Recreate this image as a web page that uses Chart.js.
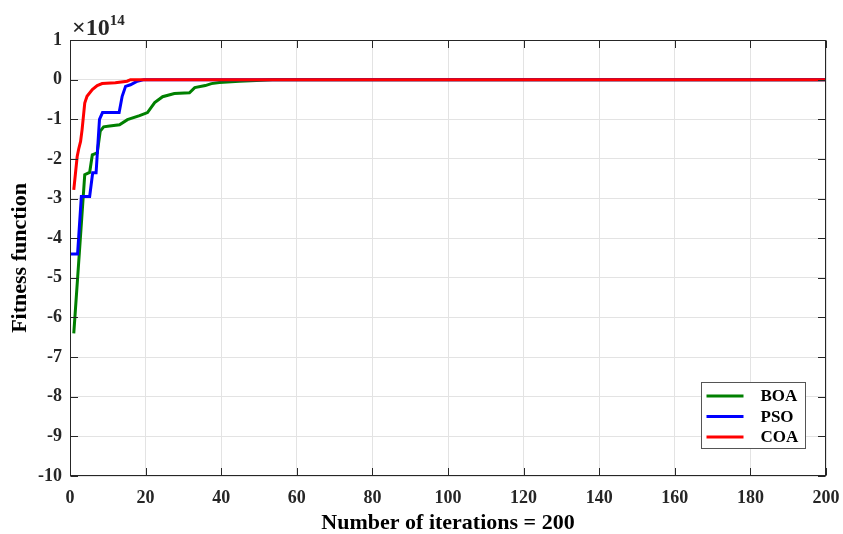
<!DOCTYPE html>
<html><head><meta charset="utf-8">
<script src="https://cdn.jsdelivr.net/npm/chart.js@4.4.1/dist/chart.umd.min.js"></script>
<style>html,body{margin:0;padding:0;background:#fff;}#wrap{width:843px;height:534px;}</style>
</head><body><div id="wrap"><canvas id="c" width="843" height="534"></canvas></div>
<script>
// ---- data (y values in units of 10^14) ----
const xTickValues = [0,20,40,60,80,100,120,140,160,180,200];
const yTickValues = [1,0,-1,-2,-3,-4,-5,-6,-7,-8,-9,-10];
const yExponent = 14;
const seriesNames = ['BOA','PSO','COA'];
const seriesColors = ['#008000','#0000ff','#ff0000'];
const xTitle = 'Number of iterations = 200';
const yTitle = 'Fitness function';

const boaX = [1, 3.9, 5.2, 5.9, 7.2, 8.0, 8.9, 10.5, 13.1, 15.2, 18.4, 20.5, 22.4, 24.5, 27.6, 31.6, 33.0, 35.8, 37.4, 39.5, 44.8, 49.3, 53.6, 200];
const boaY = [-6.4, -2.4, -2.34, -1.9, -1.85, -1.3, -1.19, -1.17, -1.14, -1.01, -0.91, -0.83, -0.58, -0.43, -0.35, -0.33, -0.2, -0.15, -0.1, -0.07, -0.04, -0.02, 0, 0];

const psoX = [0.2, 2.0, 3.0, 5.2, 6.0, 6.9, 7.8, 8.6, 13.0, 13.8, 14.7, 16.0, 17.8, 19.6, 200];
const psoY = [-4.4, -4.4, -2.95, -2.95, -2.35, -2.35, -1.0, -0.83, -0.83, -0.42, -0.17, -0.13, -0.04, 0, 0];

const coaX = [1, 1.9, 2.3, 2.8, 3.2, 3.9, 4.5, 5.9, 7.2, 8.5, 12.0, 15.1, 16.0, 200];
const coaY = [-2.78, -1.94, -1.75, -1.56, -1.26, -0.59, -0.42, -0.25, -0.15, -0.1, -0.08, -0.04, 0, 0];

const seriesX = [boaX, psoX, coaX];
const seriesY = [boaY, psoY, coaY];

const AXIS = '#262626';
const serif = '"Liberation Serif", "Times New Roman", serif';

const framePlugin = {
  id: 'frame',
  afterDatasetsDraw(chart) {
    const ctx = chart.ctx, a = chart.chartArea;
    const xs = chart.scales.x, ys = chart.scales.y;
    ctx.save();
    ctx.strokeStyle = AXIS; ctx.lineWidth = 1;
    const L = Math.round(a.left)+0.5, R = Math.round(a.right)-0.5, T = Math.round(a.top)+0.5, B = Math.round(a.bottom)-0.5;
    ctx.strokeRect(L, T, R-L, B-T);
    const tl = 7.5;
    ctx.beginPath();
    xTickValues.forEach(v => {
      const px = Math.round(xs.getPixelForValue(v))+0.5;
      ctx.moveTo(px, B); ctx.lineTo(px, B-tl);
      ctx.moveTo(px, T); ctx.lineTo(px, T+tl);
    });
    yTickValues.forEach(v => {
      const py = Math.round(ys.getPixelForValue(v))+0.5;
      ctx.moveTo(L, py); ctx.lineTo(L+tl, py);
      ctx.moveTo(R, py); ctx.lineTo(R-tl, py);
    });
    ctx.stroke();
    // exponent label
    ctx.fillStyle = AXIS;
    ctx.textBaseline = 'alphabetic';
    ctx.textAlign = 'left';
    ctx.font = 'bold 24px ' + serif;
    const base = '\u00d710';
    ctx.fillText(base, a.left + 2, a.top - 5);
    const w = ctx.measureText(base).width;
    ctx.font = 'bold 15px ' + serif;
    ctx.fillText(String(yExponent), a.left + 2 + w, a.top - 15);
    // legend
    const bw = 104, bh = 66;
    const bx = Math.round(a.right) - 21 - bw + 0.5, by = Math.round(a.bottom) - 28 - bh + 0.5;
    ctx.fillStyle = '#fff';
    ctx.fillRect(bx, by, bw, bh);
    ctx.strokeStyle = '#555'; ctx.lineWidth = 1;
    ctx.strokeRect(bx, by, bw, bh);
    ctx.font = 'bold 17px ' + serif;
    ctx.textBaseline = 'middle';
    chart.data.datasets.forEach((ds, i) => {
      const yy = by + 13.5 + i * 20.5;
      ctx.strokeStyle = ds.borderColor; ctx.lineWidth = 3;
      ctx.beginPath(); ctx.moveTo(bx + 5, yy); ctx.lineTo(bx + 42, yy); ctx.stroke();
      ctx.fillStyle = '#000';
      ctx.fillText(ds.label, bx + 59, yy + 1);
    });
    ctx.restore();
  }
};

const datasets = seriesNames.map((name, i) => ({
  label: name,
  data: seriesX[i].map((x, k) => ({x: x, y: seriesY[i][k]})),
  borderColor: seriesColors[i],
  backgroundColor: seriesColors[i],
  borderWidth: 3,
  pointRadius: 0,
  tension: 0,
  fill: false,
  order: 3 - i,
  clip: false
}));

new Chart(document.getElementById('c'), {
  type: 'line',
  data: { datasets },
  options: {
    responsive: false,
    animation: false,
    devicePixelRatio: 1,
    layout: { padding: { left: 0, right: 17, top: 40, bottom: 0 } },
    plugins: { legend: { display: false }, tooltip: { enabled: false } },
    scales: {
      x: {
        type: 'linear', min: 0, max: 200,
        afterBuildTicks(s) { s.ticks = xTickValues.map(v => ({value: v})); },
        afterFit(s) { s.height = 58; s.paddingLeft = 0; s.paddingRight = 0; },
        grid: { color: '#e3e3e3', drawTicks: false },
        border: { display: false },
        ticks: { color: AXIS, padding: 12, maxRotation: 0, autoSkip: false,
                 font: { family: serif, size: 18, weight: 'bold' } },
        title: { display: true, text: xTitle, color: '#000', padding: { top: 0, bottom: 0 },
                 font: { family: serif, size: 22, weight: 'bold', lineHeight: 1.0 } }
      },
      y: {
        type: 'linear', min: -10, max: 1,
        afterBuildTicks(s) { s.ticks = yTickValues.map(v => ({value: v})); },
        afterFit(s) { s.width = 70; s.paddingTop = 0; s.paddingBottom = 0; },
        grid: { color: '#e3e3e3', drawTicks: false },
        border: { display: false },
        ticks: { color: AXIS, padding: 8, autoSkip: false,
                 font: { family: serif, size: 18, weight: 'bold' } },
        title: { display: true, text: yTitle, color: '#000', padding: { top: 9, bottom: 0 },
                 font: { family: serif, size: 22, weight: 'bold', lineHeight: 1.0 } }
      }
    }
  },
  plugins: [framePlugin]
});
</script></body></html>
